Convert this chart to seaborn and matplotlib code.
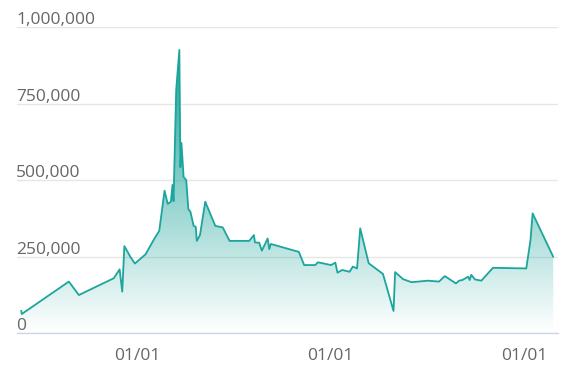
import numpy as np
import pandas as pd
import matplotlib
matplotlib.use("Agg")
import matplotlib.pyplot as plt
import matplotlib.dates as mdates
import matplotlib.transforms as mtransforms
from matplotlib.colors import LinearSegmentedColormap
import seaborn as sns

dates = [
    "2018-05-26", "2018-05-27", "2018-08-24", "2018-09-12", "2018-11-17", "2018-11-28",
    "2018-12-03", "2018-12-07", "2018-12-19", "2018-12-27", "2019-01-16", "2019-02-02",
    "2019-02-11", "2019-02-21", "2019-02-27", "2019-03-05", "2019-03-08", "2019-03-10",
    "2019-03-15", "2019-03-21", "2019-03-23", "2019-03-25", "2019-03-29", "2019-04-03",
    "2019-04-07", "2019-04-11", "2019-04-17", "2019-04-21", "2019-04-23", "2019-04-29",
    "2019-05-09", "2019-05-28", "2019-06-11", "2019-06-24", "2019-07-31", "2019-08-09",
    "2019-08-11", "2019-08-19", "2019-08-24", "2019-09-04", "2019-09-07", "2019-09-10",
    "2019-11-02", "2019-11-12", "2019-12-03", "2019-12-08", "2020-01-02", "2020-01-10",
    "2020-01-14", "2020-01-23", "2020-02-06", "2020-02-12", "2020-02-20", "2020-02-26",
    "2020-03-13", "2020-04-09", "2020-04-29", "2020-05-02", "2020-05-17", "2020-06-02",
    "2020-07-03", "2020-07-24", "2020-08-04", "2020-08-25", "2020-08-31", "2020-09-06",
    "2020-09-17", "2020-09-20", "2020-09-23", "2020-09-30", "2020-10-12", "2020-11-03",
    "2021-01-05", "2021-01-13", "2021-01-17", "2021-02-25",
]
values = [
    73000, 62000, 168000, 124000, 179000, 208000,
    135000, 284000, 247000, 227000, 257000, 309000,
    334000, 465000, 422000, 429000, 484000, 431000,
    794000, 925000, 542000, 621000, 510000, 500000,
    405000, 396000, 350000, 347000, 301000, 320000,
    429000, 350000, 345000, 301000, 301000, 320000,
    296000, 295000, 269000, 309000, 274000, 291000,
    265000, 222000, 222000, 231000, 222000, 230000,
    197000, 206000, 200000, 217000, 211000, 342000,
    228000, 193000, 72000, 199000, 176000, 166000,
    171000, 168000, 186000, 162000, 171000, 173000,
    184000, 173000, 190000, 175000, 171000, 213000,
    211000, 304000, 391000, 249000,
]
y_ticks = [0, 250000, 500000, 750000, 1000000]
y_labels = ["0", "250,000", "500,000", "750,000", "1,000,000"]
x_range = ["2018-05-18", "2021-03-06"]

sns.set_style("white")
plt.rcParams["font.family"] = ["Open Sans", "DejaVu Sans"]

line_color = "#1ca59c"
text_color = "#666666"
axis_color = "#ccd6eb"

fig = plt.figure(figsize=(5.71, 3.80), dpi=100)
ax = fig.add_axes([17 / 571, 47 / 380, 541 / 571, 306 / 380])

df = pd.DataFrame({"date": pd.to_datetime(dates), "value": values})

# gradient fill under line
poly = ax.fill_between(df["date"], df["value"], 0, color="none", lw=0)
xmin, xmax = mdates.date2num(pd.to_datetime(x_range))
grad = np.linspace(1, 0, 256).reshape(-1, 1)
cmap = LinearSegmentedColormap.from_list(
    "g", [(0.10, 0.64, 0.60, 0.0), (0.10, 0.64, 0.60, 1.0)])
im = ax.imshow(grad, aspect="auto", cmap=cmap, vmin=0, vmax=1,
               extent=[xmin, xmax, 0, max(values)], origin="upper", zorder=1)
im.set_clip_path(poly.get_paths()[0], transform=ax.transData)

sns.lineplot(data=df, x="date", y="value", ax=ax, color=line_color,
             linewidth=1.3, zorder=3)

ax.set_xlim(pd.to_datetime(x_range[0]), pd.to_datetime(x_range[1]))
ax.set_ylim(0, 1000000)
ax.set_xlabel("")
ax.set_ylabel("")

# grid
ax.set_yticks(y_ticks)
ax.set_yticklabels([])
ax.tick_params(axis="y", length=0)
ax.yaxis.grid(True, color="#e6e6e6", linewidth=1)
ax.xaxis.grid(False)
ax.set_axisbelow(True)

for s in ["top", "right", "left"]:
    ax.spines[s].set_visible(False)
ax.spines["bottom"].set_color(axis_color)
ax.spines["bottom"].set_linewidth(1)
ax.spines["bottom"].set_zorder(4)

trans = mtransforms.blended_transform_factory(ax.transAxes, ax.transData)
for v, lab in zip(y_ticks, y_labels):
    ax.annotate(lab, xy=(0, v), xycoords=trans, xytext=(-0.5, 2.0),
                textcoords="offset points", ha="left", va="baseline",
                fontsize=12.5, color=text_color, annotation_clip=False)

ax.xaxis.set_major_locator(mdates.YearLocator())
ax.xaxis.set_major_formatter(mdates.DateFormatter("%m/%d"))
ax.tick_params(axis="x", length=7.5, width=1, color=axis_color,
               labelcolor=text_color, labelsize=12.5, pad=3)

fig.savefig("out.png", dpi=100, facecolor="white")
